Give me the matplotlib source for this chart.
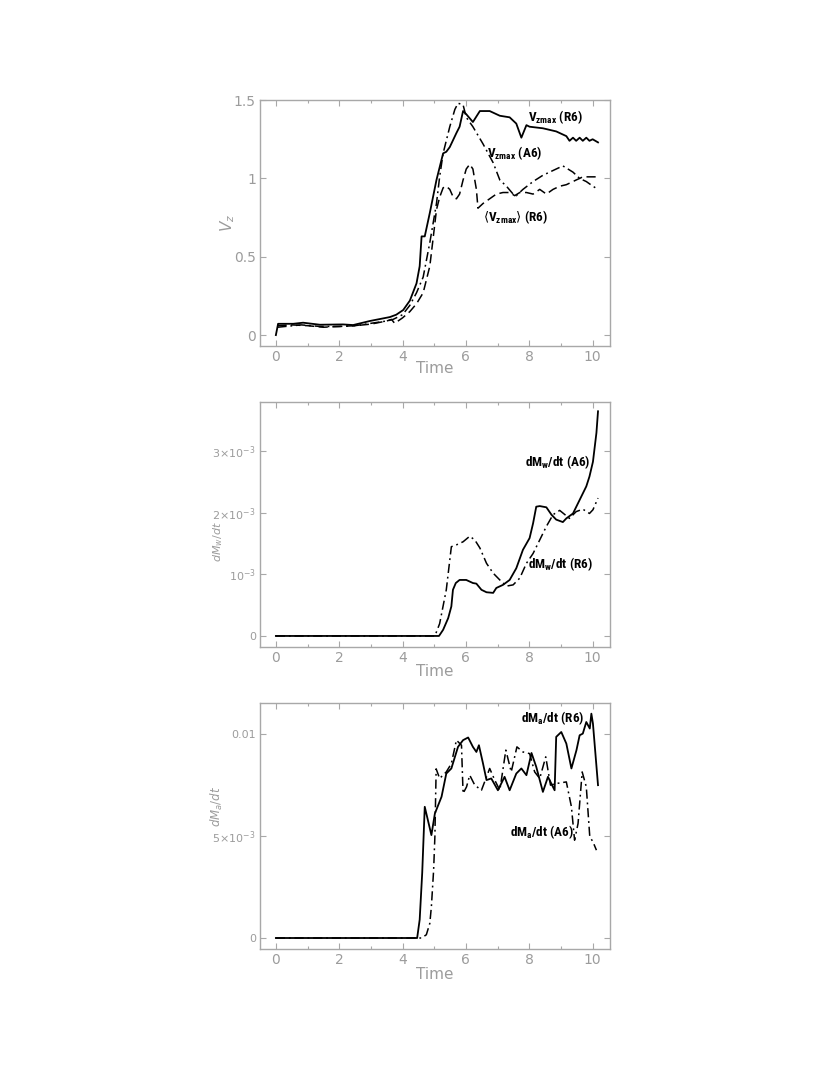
import matplotlib
matplotlib.use('Agg')
import matplotlib.pyplot as plt
from matplotlib import font_manager
from matplotlib.ticker import FixedLocator, FixedFormatter, MultipleLocator

# --- panel 1 : Vz ---
t_vz_r6 = [0, 0.07, 0.55, 0.86, 1.39, 2.12, 2.44, 2.97, 3.6, 3.8, 4.02, 4.23, 4.44, 4.54, 4.6, 4.7,
           4.86, 5.07, 5.28, 5.38, 5.49, 5.7, 5.8, 5.91, 6.01, 6.22, 6.44, 6.75, 7.07, 7.38, 7.59,
           7.75, 7.91, 8.01, 8.43, 8.85, 9.17, 9.27, 9.38, 9.48, 9.59, 9.69, 9.8, 9.9, 10.0, 10.17]
vz_r6 = [0, 0.072, 0.072, 0.079, 0.066, 0.068, 0.064, 0.09, 0.115, 0.13, 0.16, 0.22, 0.33, 0.44, 0.63,
         0.63, 0.78, 0.99, 1.16, 1.17, 1.20, 1.29, 1.33, 1.43, 1.41, 1.36, 1.43, 1.43, 1.40, 1.39,
         1.35, 1.26, 1.34, 1.33, 1.32, 1.30, 1.27, 1.24, 1.26, 1.24, 1.26, 1.24, 1.26, 1.24, 1.25, 1.23]

t_vz_a6 = [0.05, 0.3, 0.8, 1.4, 2.0, 2.5, 3.0, 3.5, 3.7, 4.0, 4.23, 4.44, 4.65, 4.86, 5.07, 5.17,
           5.28, 5.49, 5.65, 5.75, 5.91, 6.01, 6.22, 6.54, 6.86, 7.07, 7.28, 7.49, 7.59, 7.8, 8.12,
           8.43, 8.85, 9.06, 9.38, 9.59, 9.8, 10.01, 10.17]
vz_a6 = [0.05, 0.055, 0.065, 0.055, 0.055, 0.06, 0.075, 0.09, 0.10, 0.13, 0.19, 0.27, 0.37, 0.59,
         0.84, 1.01, 1.16, 1.33, 1.44, 1.48, 1.47, 1.39, 1.33, 1.22, 1.10, 0.99, 0.95, 0.90, 0.89,
         0.93, 0.98, 1.02, 1.06, 1.08, 1.04, 1.0, 0.98, 0.95, 0.93]

t_vz_mean = [0.05, 0.5, 1.0, 1.5, 2.0, 2.5, 3.0, 3.5, 3.65, 3.75, 4.0, 4.23, 4.44, 4.65, 4.86, 4.96,
             5.07, 5.17, 5.28, 5.38, 5.49, 5.6, 5.7, 5.8, 5.91, 6.01, 6.12, 6.22, 6.33, 6.38, 6.54,
             6.75, 6.96, 7.17, 7.38, 7.54, 7.7, 7.91, 8.12, 8.33, 8.54, 8.75, 8.96, 9.17, 9.38,
             9.48, 9.59, 9.69, 9.9, 10.17]
vz_mean = [0.06, 0.065, 0.06, 0.05, 0.055, 0.06, 0.07, 0.09, 0.10, 0.075, 0.11, 0.15, 0.20, 0.27,
           0.44, 0.61, 0.80, 0.88, 0.94, 0.95, 0.93, 0.88, 0.87, 0.90, 0.99, 1.06, 1.09, 1.06, 0.93,
           0.81, 0.84, 0.87, 0.90, 0.91, 0.91, 0.89, 0.91, 0.91, 0.90, 0.93, 0.90, 0.93, 0.95, 0.96,
           0.98, 0.99, 1.0, 1.01, 1.01, 1.01]

# --- panel 2 : dMw/dt (units of 1e-3) ---
t_mw_a6 = [0, 5.15, 5.28, 5.44, 5.54, 5.59, 5.68, 5.8, 6.01, 6.22, 6.33, 6.49, 6.65, 6.86, 6.96,
           7.17, 7.38, 7.59, 7.8, 8.01, 8.12, 8.22, 8.33, 8.54, 8.7, 8.85, 9.06, 9.17, 9.38, 9.59,
           9.8, 9.9, 10.01, 10.12, 10.17]
mw_a6 = [0, 0, 0.1, 0.29, 0.48, 0.75, 0.86, 0.91, 0.91, 0.86, 0.85, 0.75, 0.71, 0.70, 0.78, 0.83,
         0.91, 1.10, 1.40, 1.59, 1.83, 2.10, 2.11, 2.09, 1.97, 1.89, 1.85, 1.91, 1.99, 2.21, 2.43,
         2.59, 2.83, 3.30, 3.65]

t_mw_r6 = [0, 5.02, 5.17, 5.38, 5.54, 5.7, 5.91, 6.12, 6.28, 6.44, 6.65, 6.86, 7.07, 7.28, 7.49,
           7.7, 7.91, 8.12, 8.33, 8.54, 8.75, 8.96, 9.27, 9.48, 9.69, 9.9, 10.01, 10.17]
mw_r6 = [0, 0, 0.2, 0.75, 1.45, 1.48, 1.53, 1.62, 1.56, 1.43, 1.18, 1.02, 0.91, 0.81, 0.83, 0.94,
         1.18, 1.34, 1.56, 1.78, 1.97, 2.04, 1.91, 2.02, 2.06, 1.99, 2.05, 2.24]

# --- panel 3 : dMa/dt (units of 1e-3) ---
t_ma_r6 = [0, 4.46, 4.54, 4.62, 4.70, 4.91, 5.02, 5.23, 5.38, 5.54, 5.75, 5.91, 6.07, 6.22, 6.33,
           6.41, 6.54, 6.65, 6.8, 7.01, 7.22, 7.38, 7.59, 7.75, 7.91, 8.07, 8.22, 8.43, 8.59, 8.8,
           8.85, 9.01, 9.17, 9.33, 9.49, 9.59, 9.69, 9.8, 9.91, 9.96, 10.01, 10.17]
ma_r6 = [0, 0, 0.9, 3.2, 6.44, 5.05, 6.11, 6.93, 8.07, 8.32, 9.38, 9.71, 9.84, 9.38, 9.13, 9.46,
         8.56, 7.75, 7.83, 7.25, 7.91, 7.25, 8.07, 8.32, 7.99, 9.08, 8.4, 7.17, 7.91, 7.25, 9.87,
         10.11, 9.54, 8.32, 9.22, 9.95, 10.03, 10.6, 10.28, 11.01, 10.52, 7.5]

t_ma_a6 = [0, 4.6, 4.75, 4.86, 4.91, 4.98, 5.02, 5.06, 5.17, 5.38, 5.54, 5.7, 5.86, 5.91, 6.02,
           6.12, 6.28, 6.49, 6.75, 6.91, 7.07, 7.26, 7.43, 7.61, 7.8, 8.01, 8.17, 8.33, 8.52, 8.67,
           8.85, 9.17, 9.33, 9.43, 9.54, 9.67, 9.8, 9.91, 10.01, 10.12]
ma_a6 = [0, 0, 0.16, 0.72, 1.55, 3.33, 4.98, 8.3, 7.83, 8.15, 8.56, 9.71, 9.46, 7.09, 7.42, 7.99,
         7.5, 7.25, 8.32, 7.75, 7.25, 9.22, 8.15, 9.38, 9.13, 9.05, 8.15, 7.83, 8.89, 7.5, 7.58,
         7.66, 6.44, 4.8, 5.62, 8.15, 7.42, 4.97, 4.72, 4.31]

x_ticks = [0, 2, 4, 6, 8, 10]

# narrow bold font for the curve labels
installed = {f.name for f in font_manager.fontManager.ttflist}
ann_font = 'DejaVu Sans'
for name in ['Liberation Sans Narrow', 'Roboto Condensed', 'Open Sans Condensed']:
    if name in installed:
        ann_font = name
        break
plt.rcParams['mathtext.fontset'] = 'custom'
plt.rcParams['mathtext.bf'] = ann_font + ':bold'
plt.rcParams['mathtext.it'] = 'DejaVu Sans:italic'
plt.rcParams['mathtext.rm'] = 'DejaVu Sans'

grey = '#9c9c9c'
frame = '#a8a8a8'
ann_kw = dict(fontsize=9.5, fontweight='bold', fontstretch='condensed', family=ann_font,
              color='black')

fig = plt.figure(figsize=(8.3, 10.75), dpi=100)
ax1 = fig.add_axes([0.3133, 0.6781, 0.4217, 0.2288])
ax2 = fig.add_axes([0.3133, 0.3981, 0.4217, 0.2279])
ax3 = fig.add_axes([0.3133, 0.1172, 0.4217, 0.2288])

solid = dict(color='black', lw=1.3)
dashdot = dict(color='black', lw=1.1, dashes=(6, 2.5, 1.2, 2.5))
dashed = dict(color='black', lw=1.1, dashes=(6, 3))

ax1.plot(t_vz_r6, vz_r6, **solid)
ax1.plot(t_vz_a6, vz_a6, **dashdot)
ax1.plot(t_vz_mean, vz_mean, **dashed)
ax1.set_ylim(-0.07, 1.5)
ax1.set_yticks([0, 0.5, 1, 1.5])
ax1.set_yticklabels(['0', '0.5', '1', '1.5'])
ax1.set_ylabel(r'$V_z$', color=grey, fontsize=11)
ax1.yaxis.set_label_coords(-0.065, 0.5)
ax1.text(7.95, 1.39, r'$\mathbf{V_{zmax}}$ (R6)', va='center', **ann_kw)
ax1.text(6.66, 1.16, r'$\mathbf{V_{zmax}}$ (A6)', va='center', **ann_kw)
ax1.text(6.53, 0.755, r'$\langle\mathbf{V_{zmax}}\rangle$ (R6)', va='center', **ann_kw)

ax2.plot(t_mw_a6, [v * 1e-3 for v in mw_a6], **solid)
ax2.plot(t_mw_r6, [v * 1e-3 for v in mw_r6], **dashdot)
ax2.set_ylim(-0.18e-3, 3.8e-3)
ax2.yaxis.set_major_locator(FixedLocator([0, 1e-3, 2e-3, 3e-3]))
ax2.yaxis.set_major_formatter(FixedFormatter(['0', r'$10^{-3}$', r'$2{\times}10^{-3}$',
                                              r'$3{\times}10^{-3}$']))
ax2.set_ylabel(r'$dM_w/dt$', color=grey, fontsize=8)
ax2.yaxis.set_label_coords(-0.1, 0.43)
ax2.text(7.85, 2.83e-3, r'dM$_\mathbf{w}$/dt (A6)', va='center', **ann_kw)
ax2.text(7.95, 1.17e-3, r'dM$_\mathbf{w}$/dt (R6)', va='center', **ann_kw)

ax3.plot(t_ma_r6, [v * 1e-3 for v in ma_r6], **solid)
ax3.plot(t_ma_a6, [v * 1e-3 for v in ma_a6], **dashdot)
ax3.set_ylim(-0.54e-3, 11.53e-3)
ax3.yaxis.set_major_locator(FixedLocator([0, 5e-3, 1e-2]))
ax3.yaxis.set_major_formatter(FixedFormatter(['0', r'$5{\times}10^{-3}$', '0.01']))
ax3.set_ylabel(r'$dM_a/dt$', color=grey, fontsize=8.5)
ax3.yaxis.set_label_coords(-0.1, 0.58)
ax3.text(7.75, 10.77e-3, r'dM$_\mathbf{a}$/dt (R6)', va='center', **ann_kw)
ax3.text(7.38, 5.21e-3, r'dM$_\mathbf{a}$/dt (A6)', va='center', **ann_kw)

for ax, ly in [(ax1, -0.061), (ax2, -0.07), (ax3, -0.073)]:
    ax.set_xlim(-0.5, 10.55)
    ax.set_xticks(x_ticks)
    ax.xaxis.set_minor_locator(MultipleLocator(1))
    ax.tick_params(which='both', direction='in', top=True, right=True, colors=frame,
                   labelcolor=grey, labelsize=10, pad=3)
    ax.tick_params(which='major', length=4, width=0.8)
    ax.tick_params(which='minor', length=2.5, width=0.8)
    ax.set_xlabel('Time', color=grey, fontsize=11)
    ax.xaxis.set_label_coords(0.5, ly)
    for s in ax.spines.values():
        s.set_color(frame)
        s.set_linewidth(1.0)

for ax in (ax2, ax3):
    ax.tick_params(axis='y', labelsize=8)

fig.savefig('out.png', dpi=100)
